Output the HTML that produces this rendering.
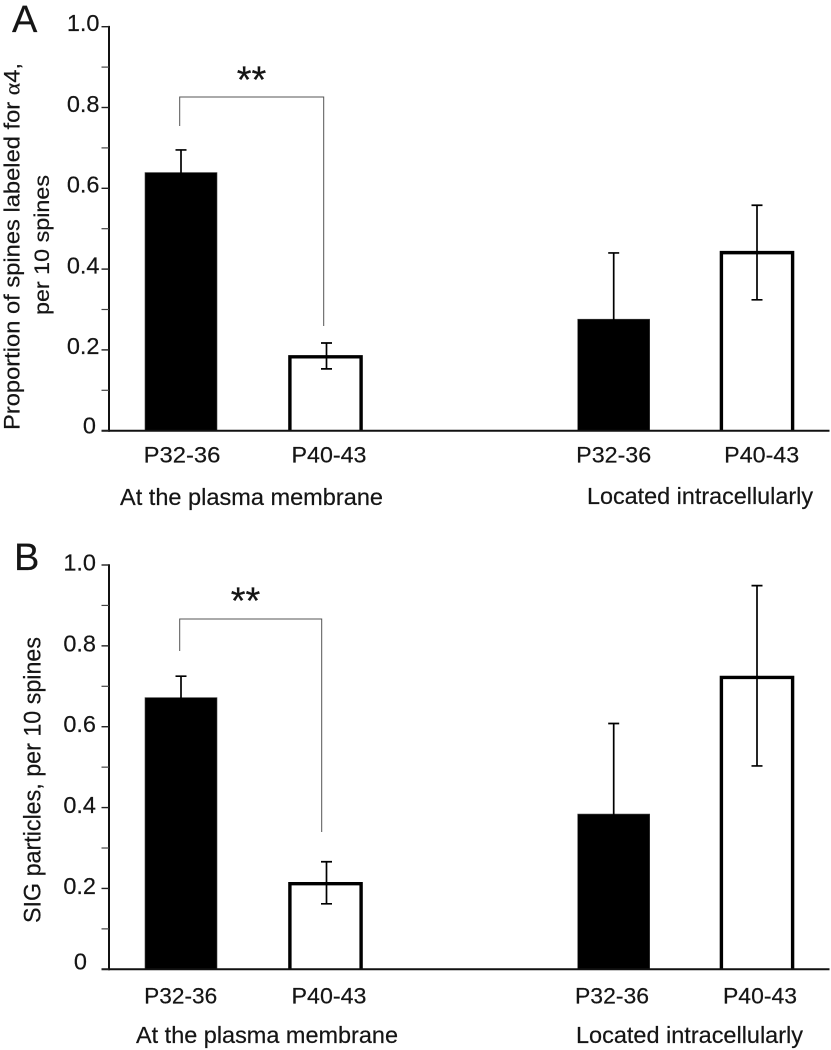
<!DOCTYPE html>
<html lang="en">
<head>
<meta charset="utf-8">
<title>Spine labeling bar charts</title>
<style>
html,body{margin:0;padding:0;background:#fff;}
svg{display:block;}
text{font-family:"Liberation Sans",sans-serif;fill:#151515;stroke:#151515;stroke-width:0.2;}
.greek{font-family:"Liberation Serif",serif;}
</style>
</head>
<body>
<svg id="figure" xmlns="http://www.w3.org/2000/svg" width="831" height="1050" viewBox="0 0 831 1050">
  <rect width="831" height="1050" fill="#fff"/>
  <g id="panel-a">
    <text x="12" y="32" font-size="38">A</text>
    <text transform="translate(19.5,430) rotate(-90)" font-size="22.5" textLength="367" lengthAdjust="spacingAndGlyphs">Proportion of spines labeled for <tspan class="greek">α</tspan>4,</text>
    <text transform="translate(49,315) rotate(-90)" font-size="21.5" textLength="140" lengthAdjust="spacingAndGlyphs">per 10 spines</text>
    <text x="120" y="505" font-size="23" textLength="263" lengthAdjust="spacingAndGlyphs">At the plasma membrane</text>
    <text x="587" y="504" font-size="23" textLength="226" lengthAdjust="spacingAndGlyphs">Located intracellularly</text>
    <path d="M179.7 126V97H323.7V326" fill="none" stroke="#555" stroke-width="1"/>
    <text x="251.5" y="92.5" font-size="38" text-anchor="middle">**</text>
  </g>
  <g id="panel-b">
    <text x="14" y="570" font-size="38">B</text>
    <text transform="translate(40.7,923) rotate(-90)" font-size="24" textLength="286" lengthAdjust="spacingAndGlyphs">SIG particles, per 10 spines</text>
    <text x="136" y="1043" font-size="23" textLength="262" lengthAdjust="spacingAndGlyphs">At the plasma membrane</text>
    <text x="576" y="1043" font-size="23" textLength="227" lengthAdjust="spacingAndGlyphs">Located intracellularly</text>
    <path d="M179.7 651V619H321.7V832" fill="none" stroke="#555" stroke-width="1"/>
    <text x="245.5" y="613.5" font-size="38" text-anchor="middle">**</text>
  </g>
</svg>
<script>
// Chart data
const categories = ["P32-36", "P40-43", "P32-36", "P40-43"];
const tickLabels = ["0", "0.2", "0.4", "0.6", "0.8", "1.0"];
const tickValues = [0, 0.2, 0.4, 0.6, 0.8, 1.0];
const minorTickValues = [0.1, 0.3, 0.5, 0.7, 0.9];

const panelAValues = [0.639, 0.187, 0.276, 0.445];
const panelAErrorUpper = [0.695, 0.217, 0.44, 0.558];
const panelAErrorLower = [0.583, 0.153, 0.112, 0.324];

const panelBValues = [0.672, 0.216, 0.384, 0.726];
const panelBErrorUpper = [0.725, 0.266, 0.608, 0.949];
const panelBErrorLower = [0.619, 0.162, 0.16, 0.503];

const SVGNS = "http://www.w3.org/2000/svg";

function make(tag, attrs, parent) {
  const el = document.createElementNS(SVGNS, tag);
  for (const k in attrs) el.setAttribute(k, attrs[k]);
  parent.appendChild(el);
  return el;
}

function xCenter(i) {
  const group = Math.floor(i / 2);
  return 181 + 432.7 * group + (i % 2) * (144.5 - 1.2 * group);
}

function drawPanel(opts) {
  const g = document.getElementById(opts.id);
  const top = opts.top, bottom = opts.bottom;
  const y = v => bottom - (bottom - top) * v;
  const axisX = 109;

  // bars
  opts.values.forEach((v, i) => {
    const cx = xCenter(i);
    const filled = i % 2 === 0;
    let bar;
    if (filled) {
      bar = make("rect", {
        x: cx - 36, y: y(v), width: 72, height: bottom - y(v),
        fill: "#000", stroke: "#444", "stroke-width": 0.6
      }, g);
    } else {
      const half = 35.6;
      const topEdge = y(v) + 1.7;
      bar = make("path", {
        d: "M" + (cx - half) + " " + bottom + "V" + topEdge + "H" + (cx + half) + "V" + bottom,
        fill: "#fff", stroke: "#000", "stroke-width": 3.4
      }, g);
    }
    
    

    const ex = cx + (i === 1 ? 1 : 0);
    const err = make("path", {
      d: "M" + ex + " " + y(opts.upper[i]) + "V" + y(opts.lower[i]) +
         "M" + (ex - 5.5) + " " + y(opts.upper[i]) + "H" + (ex + 5.5) +
         "M" + (ex - 5.5) + " " + y(opts.lower[i]) + "H" + (ex + 5.5),
      fill: "none", stroke: "#000", "stroke-width": 1.7
    }, g);
    
    
  });

  // axes
  const yAxis = make("line", {x1: axisX, x2: axisX, y1: y(1) - 0.8, y2: bottom + 1, stroke: "#111", "stroke-width": 2}, g);
  
  

  const xAxis = make("line", {x1: 101.5, x2: 829.5, y1: bottom, y2: bottom, stroke: "#111", "stroke-width": 2}, g);
  
  

  // ticks and tick labels
  tickValues.forEach((v, i) => {
    const tick = make("line", {x1: 101.5, x2: axisX, y1: y(v), y2: y(v), stroke: "#222", "stroke-width": 1.4}, g);
    
    

    const endX = v === 0 ? opts.zeroRight : opts.labelRight;
    const base = y(v) + (v === 0 ? opts.zeroDrop : opts.labelDrop);
    const label = make("text", {x: endX, y: base, "font-size": 23.5, "text-anchor": "end"}, g);
    label.textContent = tickLabels[i];
    
    
  });
  minorTickValues.forEach(v => {
    const minor = make("line", {x1: 101.5, x2: axisX, y1: y(v), y2: y(v), stroke: "#444", "stroke-width": 1.2}, g);
    
    
  });

  // category labels
  categories.forEach((c, i) => {
    const label = make("text", {
      x: xCenter(i) + opts.catNudge[i],
      y: bottom + opts.catDrop,
      "font-size": 22.5,
      "text-anchor": "middle",
      textLength: opts.catWidth[i],
      lengthAdjust: "spacingAndGlyphs"
    }, g);
    label.textContent = c;
    
    
  });
}

drawPanel({
  id: "panel-a", top: 26.7, bottom: 430.7,
  values: panelAValues, upper: panelAErrorUpper, lower: panelAErrorLower,
  labelRight: 99.5, labelDrop: 4.3, zeroRight: 96, zeroDrop: 2.7,
  catNudge: [1, 3.5, 0, 4.7], catWidth: [76.7, 75, 75, 75], catDrop: 32
});
drawPanel({
  id: "panel-b", top: 565, bottom: 969.3,
  values: panelBValues, upper: panelBErrorUpper, lower: panelBErrorLower,
  labelRight: 96, labelDrop: 5.5, zeroRight: 87, zeroDrop: 0,
  catNudge: [-0.3, 3.5, -1.7, 3], catWidth: [73, 75, 74, 74], catDrop: 34
});
</script>
</body>
</html>
